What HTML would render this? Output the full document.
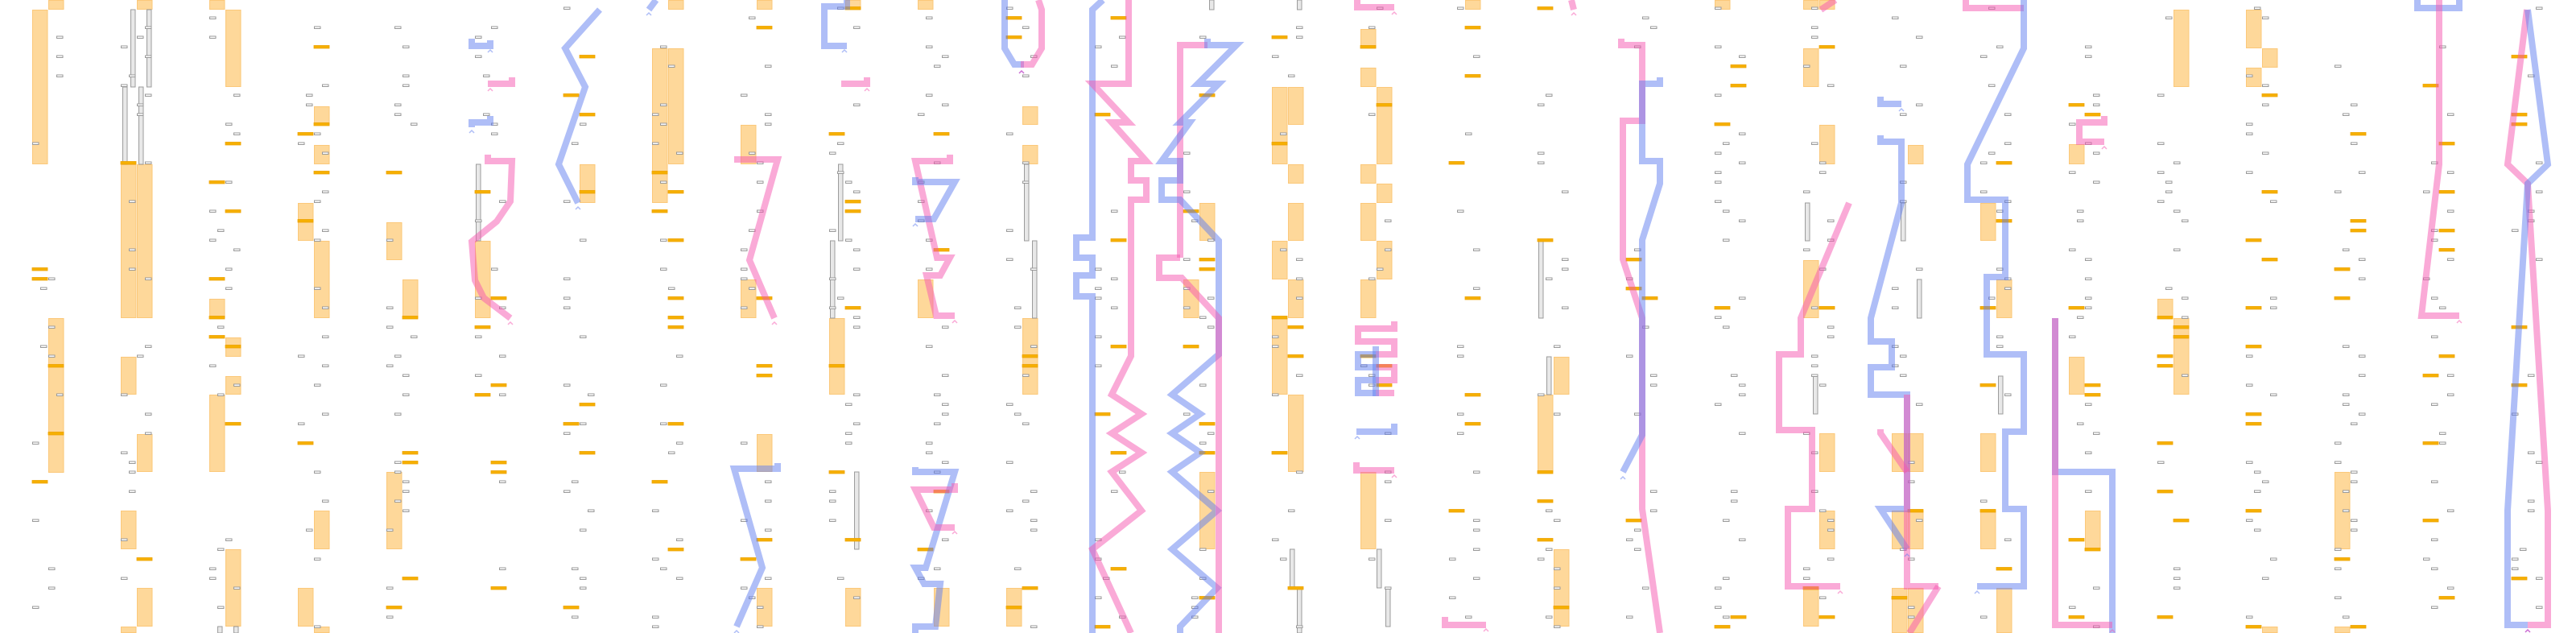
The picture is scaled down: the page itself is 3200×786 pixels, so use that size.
<!DOCTYPE html>
<html><head><meta charset="utf-8">
<style>html,body{margin:0;padding:0;background:#fff;width:3200px;height:786px;overflow:hidden}svg{display:block}</style>
</head><body>
<svg id="s" xmlns="http://www.w3.org/2000/svg" width="3200" height="786" viewBox="0 0 3200 786">
<rect width="3200" height="786" fill="#fff"/>
<g id="orange"></g><g id="rails"></g><g id="ticks"></g><g id="paths" fill="none" stroke-linejoin="miter" stroke-width="8"></g>
</svg>
<script>
(function(){
var NS="http://www.w3.org/2000/svg";
function el(p,t,a){var e=document.createElementNS(NS,t);for(var k in a)e.setAttribute(k,a[k]);p.appendChild(e);return e;}
var go=document.getElementById('orange'),gr=document.getElementById('rails'),gt=document.getElementById('ticks'),gp=document.getElementById('paths');
var O=[[40,12,204],[60,0,12],[60,395,587],
[170,0,12],[150,204,395],[170,204,395],[150,443,490],[170,539,586],[150,634,682],[170,730,778],[150,778,786],
[260,0,12],[280,12,108],[260,371,395],[280,419,443],[280,467,490],[260,490,586],[280,682,778],
[390,132,155],[390,180,204],[370,252,299],[390,299,395],[390,634,682],[370,730,778],[390,778,786],
[480,276,323],[500,347,395],[480,586,682],[590,299,395],[720,204,252],
[830,0,12],[810,60,252],[830,60,204],
[940,0,12],[920,155,204],[920,347,395],[940,539,586],[940,730,778],
[1030,395,490],[1050,0,12],[1050,730,778],
[1140,0,12],[1140,347,395],[1160,730,778],
[1270,132,155],[1270,180,204],[1270,395,490],[1250,730,778],
[1490,252,299],[1470,347,395],[1490,586,682],
[1580,108,204],[1580,299,347],[1580,395,490],[1600,108,155],[1600,204,228],[1600,252,299],[1600,347,395],[1600,490,586],
[1690,36,60],[1690,84,108],[1690,204,228],[1690,252,299],[1690,347,395],[1690,586,682],[1710,108,204],[1710,228,252],[1710,299,347],
[1820,0,12],[1910,490,586],[1930,443,490],[1930,682,778],[2130,0,12],
[2240,0,12],[2240,60,108],[2240,323,395],[2240,730,778],[2260,0,12],[2260,155,204],[2260,538,586],[2260,634,682],
[2370,180,204],[2350,538,586],[2370,538,586],[2350,634,682],[2370,634,682],[2350,730,786],[2370,730,786],
[2460,252,299],[2460,538,586],[2460,634,682],[2480,347,395],[2480,730,786],
[2570,179,204],[2570,443,490],[2590,634,682],
[2700,12,108],[2700,395,490],[2680,371,395],
[2790,12,60],[2790,84,108],[2810,60,84],[2810,778,786],
[2900,586,682],[2900,778,786]];
O.forEach(function(o){el(go,'rect',{x:o[0]+0.5,y:o[1]+0.5,width:18.5,height:o[2]-o[1]-1,fill:'#fed89a',stroke:'#fbc87a','stroke-width':1});});
var R=[[162,12,108],[182,12,108],[152,108,204],[172,108,204],[270,778,786],[290,778,786],[591,204,299],[1041,204,299],[1031,299,395],[1061,586,682],[1272,204,299],[1282,299,395],[1502,0,12],[1611,0,12],[1602,682,730],[1611,730,786],[1710,682,730],[1721,730,778],[1911,299,395],[1921,443,490],[2242,252,299],[2252,467,514],[2361,252,299],[2381,347,395],[2482,467,514]];
R.forEach(function(r){el(gr,'rect',{x:r[0]+0.5,y:r[1],width:5.5,height:r[2]-r[1],fill:'#e8e8e8',stroke:'#9c9c9c','stroke-width':1});});
var s=12345;function rnd(){s=(s*1103515245+12345)&0x7fffffff;return s/0x7fffffff;}
for(var c=0;c<29;c++){var x0=40+110*c;
 for(var r=0;r<65;r++){var y=9+12*r;
  if(rnd()<0.36){var l=Math.floor(rnd()*4);el(gt,'rect',{x:x0+l*10+0.5,y:y,width:7.5,height:2.5,fill:'#fff',stroke:'#999','stroke-width':1});}
  if(rnd()<0.09){var l2=Math.floor(rnd()*2);el(gt,'rect',{x:x0+l2*20,y:y-0.5,width:19,height:3.5,fill:'#f6b000',stroke:'#eea200','stroke-width':0.8});}
 }}
var B='rgba(95,125,240,0.5)',P='rgba(245,85,175,0.5)';
var L=[
[B,"586,48 586,57 609,57 609,50"],[P,"606,104 636,104 636,96"],[B,"586,158 586,152 609,152 609,144"],
[P,"606,192 606,200 636,200 634,250 617,275 586,300 590,348 601,370 634,395"],
[B,"745,12 702,60 727,108 694,204 718,252"],[B,"815,0 806,12"],
[P,"912,198 966,198 931,323 962,395"],[B,"966,575 966,582 912,582 947,705 915,778"],
[B,"1052,0 1052,8 1024,8 1024,57 1052,57"],[P,"1045,104 1077,104 1077,96"],
[P,"1180,192 1180,200 1137,200 1164,320 1180,320 1168,342 1151,342 1163,392 1186,392"],
[B,"1137,220 1137,226 1186,226 1160,272 1137,272"],
[B,"1137,580 1137,586 1186,586 1150,705 1137,705 1148,725 1168,725 1162,778 1137,778 1137,786"],
[P,"1186,600 1186,608 1137,608 1160,655 1186,655"],
[B,"1248,0 1248,60 1260,80 1272,80"],[P,"1290,0 1294,12 1294,60 1282,80 1268,80"],
[B,"1370,0 1357,12 1357,295 1337,295 1337,320 1357,320 1357,342 1337,342 1337,368 1357,368 1357,786"],
[P,"1402,0 1402,104 1357,104 1402,152 1381,152 1424,200 1405,200 1405,224 1424,224 1424,248 1405,248 1405,442 1381,490 1418,514 1381,538 1418,562 1381,586 1418,634 1357,682 1405,786"],
[P,"1466,320 1466,56 1500,56"],
[B,"1500,48 1500,56 1536,56 1488,104 1514,104 1466,152 1478,152 1443,200 1466,200 1466,224 1443,224 1443,248 1466,248 1514,299 1514,440 1456,490 1491,514 1456,538 1491,562 1456,586 1512,634 1456,682 1512,730 1466,778 1466,786"],
[P,"1466,320 1440,320 1440,345 1468,345 1514,395 1514,786"],
[P,"1686,0 1686,9 1732,9"],
[P,"1732,399 1732,408 1687,408 1687,424 1732,424 1732,440 1709,440"],[B,"1709,440 1687,440 1687,456 1709,456"],
[P,"1709,456 1732,456 1732,472 1709,472"],[B,"1709,472 1687,472 1687,488 1709,488"],[P,"1709,488 1732,488"],
[B,"1709,430 1709,492"],
[B,"1732,526 1732,536 1685,536"],[P,"1685,574 1685,584 1732,584"],
[P,"1795,766 1795,776 1846,776"],[P,"1952,0 1955,12"],
[P,"2014,48 2014,56 2040,56 2040,150 2016,150 2016,322 2040,395 2040,632 2062,786"],
[B,"2062,96 2062,104 2040,104 2040,200 2062,200 2062,228 2040,298 2040,540 2016,586"],
[P,"2262,12 2280,0"],
[P,"2297,252 2237,395 2237,440 2210,440 2210,534 2251,534 2251,632 2221,632 2221,728 2286,728"],
[B,"2336,120 2336,129 2362,129"],
[B,"2336,168 2336,176 2362,176 2362,252 2324,395 2324,424 2350,424 2350,456 2324,456 2324,490 2369,490 2369,632 2336,632 2369,682"],
[P,"2336,533 2336,538 2369,586"],[P,"2369,490 2369,728 2408,728"],[P,"2408,728 2372,786"],
[P,"2442,0 2442,10 2514,10"],
[B,"2514,0 2514,60 2444,204 2444,248 2491,248 2491,344 2468,344 2468,440 2514,440 2514,536 2491,536 2491,632 2514,632 2514,728 2456,728"],
[P,"2614,144 2614,152 2583,152 2583,176 2614,176"],
[B,"2553,395 2553,586 2624,586 2624,786"],[P,"2553,395 2553,776 2624,776"],
[B,"3003,0 3003,10 3055,10 3055,0"],[P,"3030,0 3030,204 3008,392 3055,392"],
[P,"3139,12 3115,204 3140,228 3165,634 3165,776 3140,776"],
[B,"3140,12 3165,204 3140,228 3115,634 3115,776 3140,776"]
];
L.forEach(function(l){el(gp,'polyline',{points:l[1],stroke:l[0]});});
var A=[[609,62,B],[609,110,P],[586,162,B],[634,400,P],[718,257,B],[806,16,B],[962,400,P],[915,783,B],[1049,62,B],[1077,110,P],[1186,398,P],[1137,278,B],[1186,660,P],[1269,88,'rgba(190,70,200,0.8)'],[1686,542,B],[1732,590,P],[1732,15,P],[1846,781,P],[1955,16,P],[2016,592,B],[2286,734,P],[2362,135,B],[2369,688,B],[2456,734,B],[2614,182,P],[2624,782,P],[3055,398,P],[3140,782,'rgba(190,70,200,0.8)']];
A.forEach(function(a){el(gp,'polyline',{points:(a[0]-3)+','+(a[1]+3)+' '+a[0]+','+a[1]+' '+(a[0]+3)+','+(a[1]+3),stroke:a[2],'stroke-width':1.5});});
})();
</script>
</body></html>
